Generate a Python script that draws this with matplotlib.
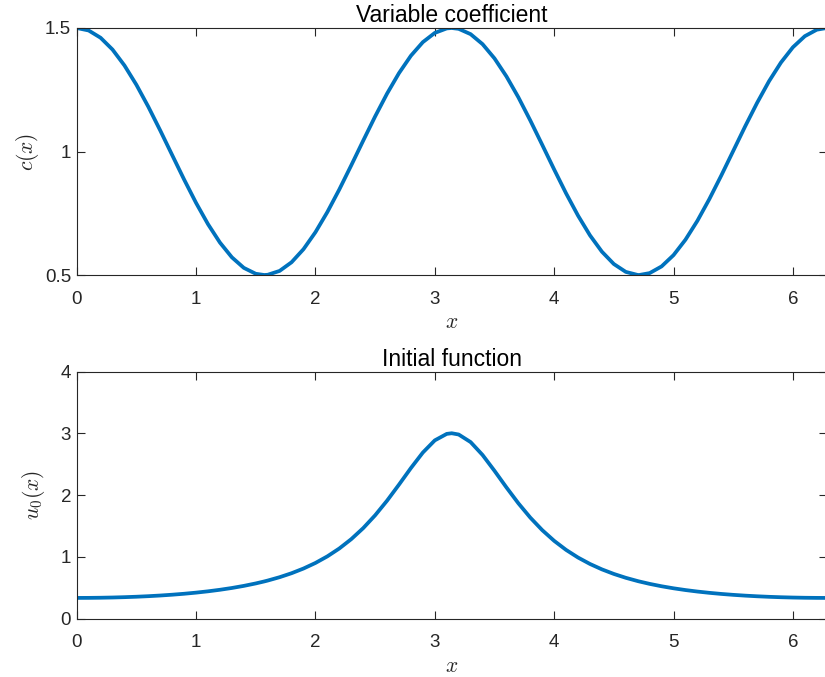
import matplotlib
matplotlib.use("Agg")
import matplotlib.pyplot as plt

plt.rcParams['font.family'] = ['Liberation Sans', 'DejaVu Sans']
plt.rcParams['mathtext.fontset'] = 'cm'

# sample points
x = [0.0, 0.1, 0.2, 0.3, 0.4, 0.5, 0.6, 0.7, 0.8, 0.9, 1.0, 1.1, 1.2, 1.3,
     1.4, 1.5, 1.5708, 1.6, 1.7, 1.8, 1.9, 2.0, 2.1, 2.2, 2.3, 2.4, 2.5, 2.6,
     2.7, 2.8, 2.9, 3.0, 3.1, 3.1416, 3.2, 3.3, 3.4, 3.5, 3.6, 3.7, 3.8, 3.9,
     4.0, 4.1, 4.2, 4.3, 4.4, 4.5, 4.6, 4.7, 4.7124, 4.8, 4.9, 5.0, 5.1, 5.2,
     5.3, 5.4, 5.5, 5.6, 5.7, 5.8, 5.9, 6.0, 6.1, 6.2, 6.2832]

c = [1.5, 1.4900, 1.4605, 1.4127, 1.3484, 1.2702, 1.1812, 1.0850, 0.9854,
     0.8864, 0.7919, 0.7058, 0.6313, 0.5716, 0.5289, 0.5050, 0.5, 0.5009,
     0.5166, 0.5516, 0.6045, 0.6732, 0.7549, 0.8463, 0.9439, 1.0437, 1.1418,
     1.2343, 1.3173, 1.3878, 1.4428, 1.4801, 1.4983, 1.5, 1.4966, 1.4751,
     1.4347, 1.3770, 1.3042, 1.2196, 1.1257, 1.0270, 0.9272, 0.8304, 0.7404,
     0.6606, 0.5944, 0.5444, 0.5126, 0.5002, 0.5, 0.5077, 0.5348, 0.5805,
     0.6429, 0.7195, 0.8073, 0.9028, 1.0022, 1.1017, 1.1968, 1.2845, 1.3603,
     1.4220, 1.4669, 1.4931, 1.5]

u0 = [0.3333, 0.3341, 0.3363, 0.3401, 0.3455, 0.3525, 0.3614, 0.3722, 0.3853,
      0.4007, 0.4189, 0.4402, 0.4652, 0.4942, 0.5282, 0.5679, 0.6, 0.6144,
      0.6690, 0.7333, 0.8093, 0.8994, 1.0065, 1.1338, 1.2849, 1.4631, 1.6709,
      1.9079, 2.1681, 2.4368, 2.6877, 2.8846, 2.9896, 3.0, 2.9796, 2.8569,
      2.6483, 2.3920, 2.1231, 1.8661, 1.6339, 1.4311, 1.2576, 1.1108, 0.9872,
      0.8832, 0.7956, 0.7217, 0.6591, 0.6060, 0.6, 0.5607, 0.5221, 0.4890,
      0.4607, 0.4364, 0.4157, 0.3979, 0.3829, 0.3703, 0.3598, 0.3512, 0.3444,
      0.3393, 0.3358, 0.3338, 0.3333]

xticks = [0, 1, 2, 3, 4, 5, 6]

W, H = 825, 677
fig = plt.figure(figsize=(W / 100, H / 100), dpi=100)

left = 76.7 / W
width = 750 / W
ax1 = fig.add_axes([left, 1 - 275 / H, width, (275 - 28) / H])
ax2 = fig.add_axes([left, 1 - 618.5 / H, width, (618.5 - 371.5) / H])

blue = '#0072BD'
grey = '#262626'

ax1.plot(x, c, color=blue, lw=2.7)
ax1.set_ylim(0.5, 1.5)
ax1.set_yticks([0.5, 1, 1.5])
ax1.set_yticklabels(['0.5', '1', '1.5'])
ax1.set_ylabel('$c(x)$', fontsize=15.5, color=grey, labelpad=3)
ax1.set_title('Variable coefficient', fontsize=16.5, pad=4)

ax2.plot(x, u0, color=blue, lw=2.7)
ax2.set_ylim(0, 4)
ax2.set_yticks([0, 1, 2, 3, 4])
ax2.set_ylabel('$u_0(x)$', fontsize=15.5, color=grey, labelpad=10)
ax2.set_title('Initial function', fontsize=16.5, pad=4)

for ax in (ax1, ax2):
    ax.set_xlim(0, 6.2832)
    ax.set_xticks(xticks)
    ax.set_xlabel('$x$', fontsize=15.5, color=grey, labelpad=3)
    ax.tick_params(axis='x', pad=11.5)
    ax.tick_params(direction='in', length=6, width=0.8, colors=grey,
                   labelsize=13.5, top=True, right=True)
    ax.tick_params(axis='y', pad=4)
    for s in ax.spines.values():
        s.set_color(grey)
        s.set_linewidth(0.8)

fig.savefig('out.png', dpi=100)
